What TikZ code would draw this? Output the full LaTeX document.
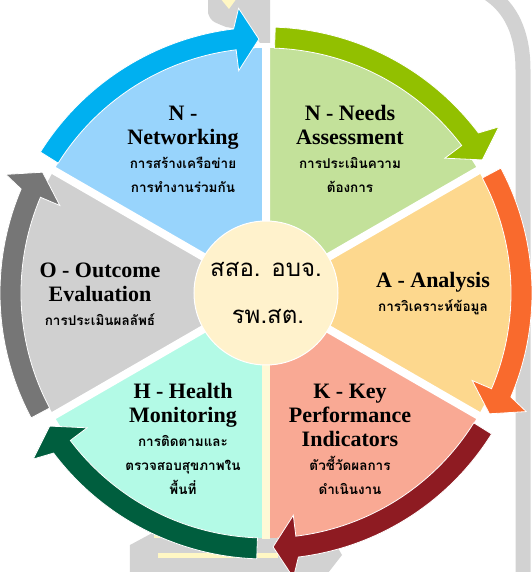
\documentclass[tikz,border=0pt]{standalone}
\usepackage{fontspec}
\setmainfont{Liberation Serif}
\newfontfamily\thaifont[Script=Thai]{Loma}
\usepackage{tikz}

\definecolor{netband}{HTML}{00B0F0}
\definecolor{netfill}{HTML}{98D4FC}
\definecolor{needband}{HTML}{92C000}
\definecolor{needfill}{HTML}{C3E19A}
\definecolor{anaband}{HTML}{F96A2D}
\definecolor{anafill}{HTML}{FDD88E}
\definecolor{kpiband}{HTML}{8E1B22}
\definecolor{kpifill}{HTML}{F9A994}
\definecolor{hltband}{HTML}{005E3E}
\definecolor{hltfill}{HTML}{B3FAE6}
\definecolor{outband}{HTML}{767676}
\definecolor{outfill}{HTML}{D0D0D0}
\definecolor{hubfill}{HTML}{FFF2CC}
\definecolor{wmgray}{HTML}{D2D2D2}
\definecolor{wmyellow}{HTML}{FFF7C4}

\newcommand{\thai}[1]{{\thaifont\fontsize{13.5}{24}\selectfont #1}}

% one sixth of the wheel: wedge plus curved arrow, #1 = angle where it starts
\newcommand{\cyclepart}[3]{%
  \fill[#2] (0,0) -- (#1:245pt) arc[start angle=#1, end angle=#1-60, radius=245pt] -- cycle;
  \fill[#3, draw=white, line width=0.8pt]
    (#1-2:266pt) arc[start angle=#1-2, end angle=#1-53, radius=266pt]
    -- (#1-54.5:286pt) -- (#1-58.4:254pt) -- (#1-53:224pt) -- (#1-53:245pt)
    arc[start angle=#1-53, end angle=#1-2, radius=245pt] -- cycle;
}

\begin{document}
\begin{tikzpicture}[x=1pt,y=1pt,
  lab/.style={align=center, inner sep=0pt, font=\fontsize{22}{24}\selectfont\bfseries},
  gap/.style={white, line width=8pt},
  hubtext/.style={inner sep=0pt, font=\thaifont\fontsize{24}{30}\selectfont}]
  \useasboundingbox (-266,-279) rectangle (265,293);

  %% faint picture behind the wheel
  \draw[wmgray, line width=15pt] (222,300) .. controls (245,285) and (257,260) .. (257,223) -- (257,-290);
  \fill[wmgray] (-58,295) -- (-58,280) .. controls (-55,272) .. (-40,266) -- (-15,262) -- (-6,250) -- (4,250) -- (4,295) -- cycle;
  \fill[wmyellow] (-46,295) -- (-29,295) -- (-37,284) -- cycle;
  \fill[wmgray] (-136,-252) -- (-110,-238) -- (62,-238) -- (76,-262) -- (62,-280) -- (-136,-280) -- cycle;
  \fill[wmyellow] (-112,-240) rectangle (12,-245);
  \fill[wmyellow] (-108,-260) rectangle (12,-265);

  %% wedges and arrows
  \cyclepart{150}{netfill}{netband}
  \cyclepart{90}{needfill}{needband}
  \cyclepart{30}{anafill}{anaband}
  \cyclepart{-30}{kpifill}{kpiband}
  \cyclepart{-90}{hltfill}{hltband}
  \cyclepart{-150}{outfill}{outband}

  \draw[gap] (0,0) -- (90:246pt) (0,0) -- (30:246pt) (0,0) -- (-30:246pt)
    (0,0) -- (-150:246pt) (0,0) -- (150:246pt);
  \draw[wmyellow!70!white, line width=8pt] (0,0) -- (-90:246pt);

  %% hub
  \node[circle, fill=hubfill, draw=white, line width=1pt, minimum size=144pt] (hub) at (0,0) {};
  \node[hubtext] (hubtop) at (0,24) {สสอ. อบจ.};
  \node[hubtext] (hubbot) at (2,-23) {รพ.สต.};

  %% labels
  \node[lab] (networking) at (-83,144) {N -\\Networking\\\thai{การสร้างเครือข่าย}\\\thai{การทำงานร่วมกัน}};
  \node[lab] (needs) at (84,144) {N - Needs\\Assessment\\\thai{การประเมินความ}\\\thai{ต้องการ}};
  \node[lab] (analysis) at (167,-1) {A - Analysis\\\thai{การวิเคราะห์ข้อมูล}};
  \node[lab] (kpi) at (84,-146) {K - Key\\Performance\\Indicators\\\thai{ตัวชี้วัดผลการ}\\\thai{ดำเนินงาน}};
  \node[lab] (health) at (-83,-146) {H - Health\\Monitoring\\\thai{การติดตามและ}\\\thai{ตรวจสอบสุขภาพใน}\\\thai{พื้นที่}};
  \node[lab] (outcome) at (-166,-1) {O - Outcome\\Evaluation\\\thai{การประเมินผลลัพธ์}};
\end{tikzpicture}
\end{document}
